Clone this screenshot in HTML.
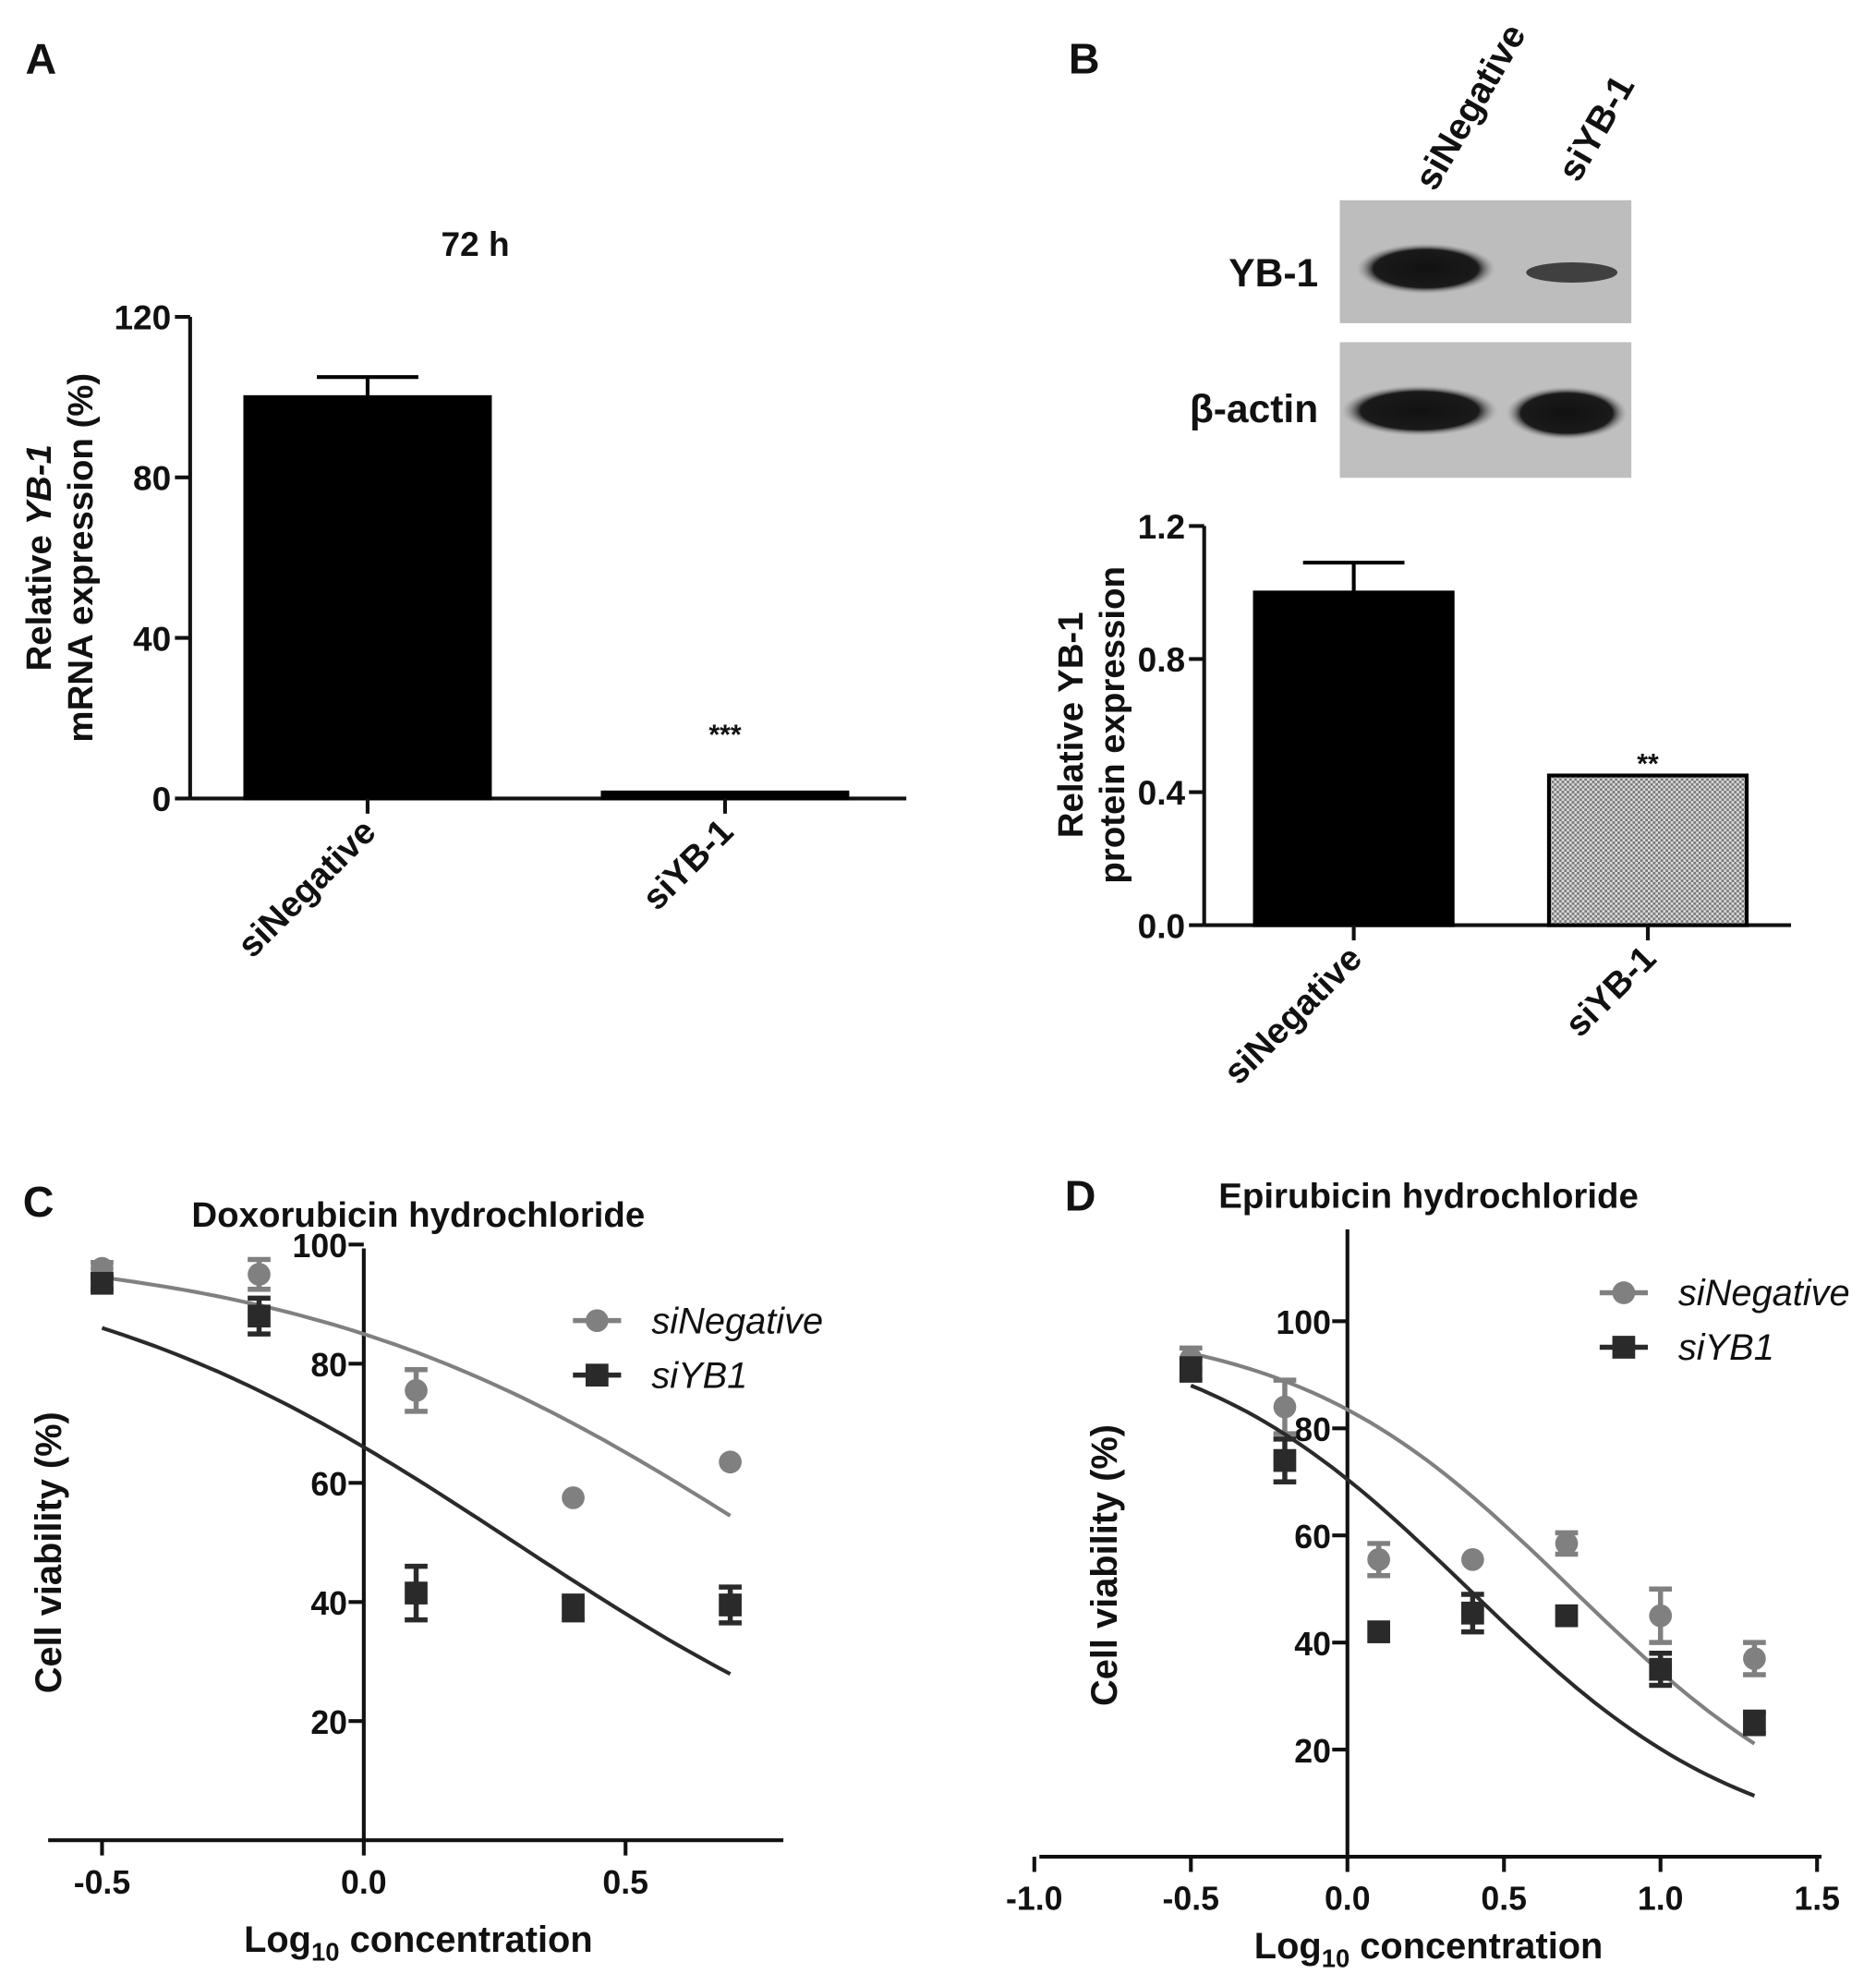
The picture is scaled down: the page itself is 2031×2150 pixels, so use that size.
<!DOCTYPE html>
<html><head><meta charset="utf-8"><style>
html,body{margin:0;padding:0;background:#fff;}
svg{display:block;font-family:"Liberation Sans",Arial,sans-serif;}
text{font-weight:bold;fill:#111;}
text.leg{font-weight:normal;font-style:italic;}
</style></head><body>
<svg id="fig" width="2031" height="2150" viewBox="0 0 1480 1567" preserveAspectRatio="none">
<defs>
<pattern id="dots" width="4" height="4" patternUnits="userSpaceOnUse"><rect width="4" height="4" fill="#ddd"/><rect width="2" height="2" fill="#777"/><rect x="2" y="2" width="2" height="2" fill="#777"/></pattern>
<radialGradient id="band" cx="50%" cy="50%" r="50%"><stop offset="0" stop-color="#111"/><stop offset="0.75" stop-color="#1a1a1a"/><stop offset="1" stop-color="#999" stop-opacity="0"/></radialGradient>
</defs>
<text x="20" y="58" font-size="34">A</text>
<text x="843" y="58" font-size="34">B</text>
<text x="18" y="960" font-size="34">C</text>
<text x="840" y="955" font-size="34">D</text>
<text x="375" y="202" font-size="27" text-anchor="middle">72 h</text>
<text x="330" y="968" font-size="28" text-anchor="middle">Doxorubicin hydrochloride</text>
<text x="1127" y="953" font-size="28" text-anchor="middle">Epirubicin hydrochloride</text>

<g>
<rect x="1057" y="158" width="230" height="97" fill="#bdbdbd"/>
<ellipse cx="1125" cy="212" rx="55" ry="20" fill="url(#band)"/>
<ellipse cx="1240" cy="215" rx="36" ry="8" fill="#2a2a2a" opacity="0.85"/>
<rect x="1057" y="270" width="230" height="107" fill="#bfbfbf"/>
<ellipse cx="1120" cy="324" rx="62" ry="20" fill="url(#band)"/>
<ellipse cx="1236" cy="326" rx="48" ry="21" fill="url(#band)"/>
<text x="1040" y="226" font-size="31" text-anchor="end">YB-1</text>
<text x="1040" y="333" font-size="31" text-anchor="end">β-actin</text>
<text transform="translate(1132,152) rotate(-60)" font-size="29">siNegative</text>
<text transform="translate(1245,145) rotate(-60)" font-size="29">siYB-1</text>
</g>
<g id="chartA"></g>
<g id="chartB"></g>
<g id="chartC"></g>
<g id="chartD"></g>
</svg>
<script>
// ---- Data ----
const barCats = ["siNegative","siYB-1"];
const mrnaValues = [100, 1.5];
const mrnaErrors = [5, 0];
const mrnaTicks = [0,40,80,120];
const protValues = [1.0, 0.45];
const protErrors = [0.09, 0];
const protTicks = [0.0,0.4,0.8,1.2];
const doseX = [-0.5,-0.2,0.1,0.4,0.7];
const doxNeg = [96,95,75.5,57.5,63.5];
const doxNegErr = [1,2.5,3.5,0,0];
const doxYB = [93.5,88,41.5,39,39.5];
const doxYBErr = [1,3,4.5,2,3];
const doxNegFit = [0.781,0.964];
const doxYBFit = [0.288,1.0];
const doxXTicks = [-0.5,0.0,0.5];
const doxYTicks = [20,40,60,80,100];
const epiX = [-0.5,-0.2,0.1,0.4,0.7,1.0,1.3];
const epiNeg = [93,84,55.5,55.5,58.5,45,37];
const epiNegErr = [2,5,3,0,2,5,3];
const epiYB = [91,74,42,45.5,45,35,25];
const epiYBErr = [2,4,0,3.5,0,3,2];
const epiNegFit = [0.717,0.982];
const epiYBFit = [0.387,0.976];
const epiXTicks = [-1.0,-0.5,0.0,0.5,1.0,1.5];
const epiYTicks = [20,40,60,80,100];

const NS="http://www.w3.org/2000/svg";
function mk(parent,tag,attrs,txt){const e=document.createElementNS(NS,tag);for(const k in attrs)e.setAttribute(k,attrs[k]);if(txt!==undefined)e.textContent=txt;parent.appendChild(e);return e;}
function fmt(v,d){return v.toFixed(d);}

function barChart(g,o){
  const y=v=>o.y0-(v-o.vmin)/(o.vmax-o.vmin)*(o.y0-o.y1);
  let e=mk(g,'line',{x1:o.ax,y1:o.y1,x2:o.ax,y2:o.y0,stroke:'#111','stroke-width':3});
  
  
  e=mk(g,'line',{x1:o.ax,y1:o.y0,x2:o.xr,y2:o.y0,stroke:'#111','stroke-width':3});
  
  
  o.ticks.forEach(t=>{
    mk(g,'line',{x1:o.ax-12,y1:y(t),x2:o.ax,y2:y(t),stroke:'#111','stroke-width':3});
    e=mk(g,'text',{x:o.ax-15,y:y(t)+10,'font-size':27,'text-anchor':'end'},fmt(t,o.dec));
    
    
  });
  o.cats.forEach((c,i)=>{
    const cx=o.cx[i], v=o.vals[i];
    e=mk(g,'rect',{x:cx-o.bw/2,y:y(v),width:o.bw,height:o.y0-y(v),fill:i==1&&o.pat?'url(#dots)':'#000',stroke:'#000','stroke-width':3});
    
    
    if(o.errs[i]>0){
      mk(g,'line',{x1:cx,y1:y(v),x2:cx,y2:y(v+o.errs[i]),stroke:'#000','stroke-width':3});
      e=mk(g,'line',{x1:cx-40,y1:y(v+o.errs[i]),x2:cx+40,y2:y(v+o.errs[i]),stroke:'#000','stroke-width':3});
      
      
    }
    mk(g,'line',{x1:cx,y1:o.y0,x2:cx,y2:o.y0+12,stroke:'#111','stroke-width':3});
    e=mk(g,'text',{transform:`translate(${cx+8},${o.y0+28}) rotate(-45)`,'font-size':28,'text-anchor':'end'},c);
    
    
  });
  e=mk(g,'text',{x:o.sigx,y:o.sigy,'font-size':22,'text-anchor':'middle'},o.sig);
  
  
  o.ylab.forEach((l,i)=>{
    e=mk(g,'text',{transform:`translate(${o.ylx+i*33},${o.yly}) rotate(-90)`,'font-size':28,'text-anchor':'middle'});
    e.innerHTML=l;
    
    
  });
}
barChart(document.getElementById('chartA'),{ax:150,y0:630,y1:250,xr:715,vmin:0,vmax:120,ticks:mrnaTicks,dec:0,cats:barCats,vals:mrnaValues,errs:mrnaErrors,cx:[290,572],bw:193,pat:false,sig:'***',sigx:572,sigy:587,ylab:['Relative <tspan font-style="italic">YB-1</tspan>','mRNA expression (%)'],ylx:40,yly:440});
barChart(document.getElementById('chartB'),{ax:950,y0:730,y1:415,xr:1413,vmin:0,vmax:1.2,ticks:protTicks,dec:1,cats:barCats,vals:protValues,errs:protErrors,cx:[1068,1300],bw:156,pat:true,sig:'**',sigx:1300,sigy:610,ylab:['Relative YB-1','protein expression'],ylx:854,yly:572});

function doseChart(g,o){
  const X=v=>o.xz+(v)*o.xs, Y=v=>o.y0-v*o.ys;
  let e=mk(g,'line',{x1:X(0),y1:o.ytop,x2:X(0),y2:o.y0,stroke:'#111','stroke-width':3});
  
  
  e=mk(g,'line',{x1:o.xl,y1:o.y0,x2:o.xr,y2:o.y0,stroke:'#111','stroke-width':3});
  
  
  o.yt.forEach(t=>{
    mk(g,'line',{x1:X(0)-12,y1:Y(t),x2:X(0),y2:Y(t),stroke:'#111','stroke-width':3});
    e=mk(g,'text',{x:X(0)-13,y:Y(t)+10,'font-size':26,'text-anchor':'end'},t);
    
    
  });
  o.xt.forEach(t=>{
    mk(g,'line',{x1:X(t),y1:o.y0,x2:X(t),y2:o.y0+12,stroke:'#111','stroke-width':3});
    e=mk(g,'text',{x:X(t),y:o.y0+42,'font-size':26,'text-anchor':'middle'},t.toFixed(1));
    
    
  });
  const series=[{v:o.neg,err:o.negErr,fit:o.negFit,c:'#808080',sq:false,n:'sinegative'},{v:o.yb,err:o.ybErr,fit:o.ybFit,c:'#2a2a2a',sq:true,n:'siyb1'}];
  series.forEach(s=>{
    let d='';
    for(let k=0;k<=60;k++){const x=o.x[0]+(o.x[o.x.length-1]-o.x[0])*k/60;const yv=100/(1+Math.pow(10,(x-s.fit[0])*s.fit[1]));d+=(k?'L':'M')+X(x).toFixed(1)+','+Y(yv).toFixed(1);}
    e=mk(g,'path',{d:d,fill:'none',stroke:s.c,'stroke-width':3});
    
    
    s.v.forEach((v,i)=>{
      const px=X(o.x[i]),py=Y(v),er=s.err[i];
      if(er>0){
        mk(g,'path',{d:`M${px},${Y(v+er)}L${px},${Y(v-er)}M${px-9},${Y(v+er)}L${px+9},${Y(v+er)}M${px-9},${Y(v-er)}L${px+9},${Y(v-er)}`,stroke:s.c,'stroke-width':4,fill:'none'});
      }
      e=s.sq?mk(g,'rect',{x:px-9,y:py-9,width:18,height:18,fill:s.c}):mk(g,'circle',{cx:px,cy:py,r:9,fill:s.c});
      
      
    });
  });
  [[o.lx,o.ly,'#808080',false,'siNegative'],[o.lx,o.ly+43,'#2a2a2a',true,'siYB1']].forEach(L=>{
    mk(g,'line',{x1:L[0],y1:L[1],x2:L[0]+38,y2:L[1],stroke:L[2],'stroke-width':4});
    if(L[3])mk(g,'rect',{x:L[0]+10,y:L[1]-9,width:18,height:18,fill:L[2]});else mk(g,'circle',{cx:L[0]+19,cy:L[1],r:9,fill:L[2]});
    e=mk(g,'text',{x:L[0]+62,y:L[1]+10,'font-size':29,class:'leg'},L[4]);
    
    
  });
  e=mk(g,'text',{transform:`translate(${o.ylx},${o.yly}) rotate(-90)`,'font-size':29,'text-anchor':'middle'},'Cell viability (%)');
  
  
  e=mk(g,'text',{x:o.xlx,y:o.xly,'font-size':29,'text-anchor':'middle'});
  e.innerHTML='Log<tspan font-size="20" dy="7">10</tspan><tspan dy="-7"> concentration</tspan>';
  
  
}
doseChart(document.getElementById('chartC'),{xz:287,xs:413,y0:1452,ys:4.7,ytop:985,xl:38,xr:618,yt:doxYTicks,xt:doxXTicks,x:doseX,neg:doxNeg,negErr:doxNegErr,negFit:doxNegFit,yb:doxYB,ybErr:doxYBErr,ybFit:doxYBFit,lx:452,ly:1042,ylx:48,yly:1225,xlx:330,xly:1540});
doseChart(document.getElementById('chartD'),{xz:1063,xs:247,y0:1465,ys:4.225,ytop:970,xl:820,xr:1437,yt:epiYTicks,xt:epiXTicks,x:epiX,neg:epiNeg,negErr:epiNegErr,negFit:epiNegFit,yb:epiYB,ybErr:epiYBErr,ybFit:epiYBFit,lx:1262,ly:1020,ylx:881,yly:1235,xlx:1127,xly:1545});
</script>
</body></html>
